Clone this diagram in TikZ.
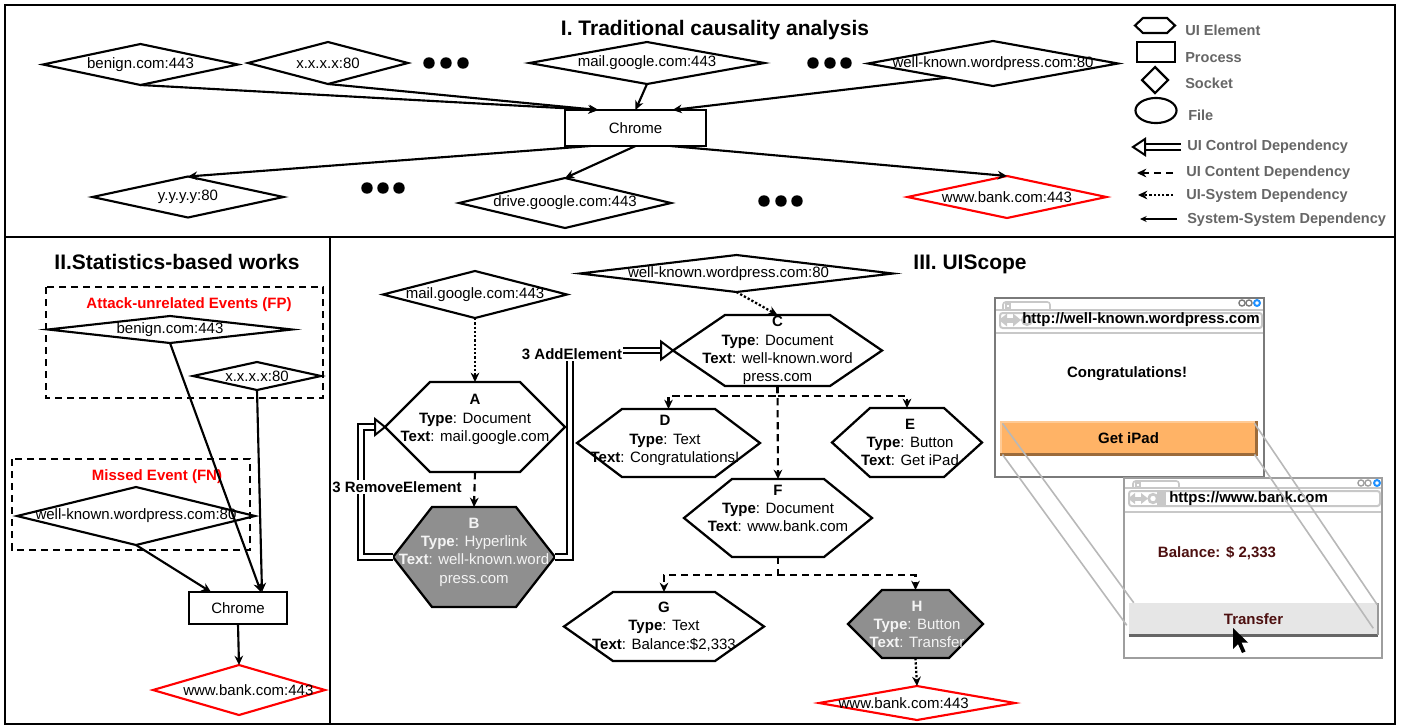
\documentclass[tikz,border=0pt]{standalone}
\usepackage{fontspec}
\setmainfont{Liberation Sans}
\usetikzlibrary{shapes.geometric,arrows.meta,calc}
\pgfdeclarelayer{bg}
\pgfsetlayers{bg,main}
\definecolor{hexgray}{HTML}{8F8F8F}
\definecolor{hextxt}{HTML}{F4F4F4}
\definecolor{leggray}{HTML}{666666}
\definecolor{winborder}{HTML}{7A7A7A}
\definecolor{winbordertwo}{HTML}{9E9E9E}
\definecolor{barlight}{HTML}{C8C8C8}
\definecolor{orangebtn}{HTML}{FFB366}
\definecolor{orangeedge}{HTML}{9C6B3A}
\definecolor{btngray}{HTML}{E6E6E6}
\definecolor{darkred}{HTML}{4D1010}
\definecolor{tiegray}{HTML}{B8B8B8}
\definecolor{blueball}{HTML}{1E90FF}
\newcommand\hexdraw[3][]{%
  \begin{pgfonlayer}{bg}
  \draw[hexline,#1] (#2.west) -- ($(#2.north west)+(#3,0)$) -- ($(#2.north east)-(#3,0)$) -- (#2.east)
     -- ($(#2.south east)-(#3,0)$) -- ($(#2.south west)+(#3,0)$) -- cycle;
  \end{pgfonlayer}}
\tikzset{
  frame/.style={draw=black, line width=1.7pt},
  ttl/.style={font=\fontsize{15.75}{18}\selectfont\bfseries, inner sep=0pt},
  redttl/.style={font=\fontsize{11.25}{13.5}\selectfont\bfseries, text=red, inner sep=0pt},
  dia/.style 2 args={shape=diamond, draw=black, line width=1.6pt, inner sep=0pt, outer sep=0pt,
     minimum width={#1*0.75pt}, minimum height={#2*0.75pt}},
  proc/.style 2 args={rectangle, draw=black, line width=1.6pt, inner sep=0pt, outer sep=0pt,
     minimum width={#1*0.75pt}, minimum height={#2*0.75pt}},
  hexbox/.style 2 args={rectangle, draw=none, inner sep=0pt, outer sep=0pt,
     minimum width={#1*0.75pt}, minimum height={#2*0.75pt}},
  hexline/.style={draw=black, line width=1.7pt},
  hextext/.style={align=center, inner sep=0pt},
  tip/.style={-{Stealth[length=7pt,width=6.5pt]}},
  sys/.style={line width=1.6pt, tip},
  content/.style={line width=1.6pt, dash pattern=on 5.5pt off 3.5pt, tip},
  uisys/.style={line width=1.7pt, dash pattern=on 1.7pt off 1.5pt, tip},
  ctrl/.style={line width=1.5pt, double=white, double distance=2.4pt},
  ctrlhead/.style={line width=1.5pt, fill=white},
  boxdash/.style={draw=black, line width=1.5pt, dash pattern=on 5.5pt off 3.5pt},
  lgtext/.style={anchor=west, inner sep=0pt, text=leggray, font=\fontsize{10.9}{13}\selectfont\bfseries},
  lab/.style={fill=white, inner sep=1pt, font=\fontsize{11.25}{13.5}\selectfont\bfseries},
  bld/.style={inner sep=0pt, font=\fontsize{11.25}{13.5}\selectfont\bfseries},
}
\begin{document}
\begin{tikzpicture}[x=0.75pt,y=-0.75pt, font=\fontsize{11.25}{13.7}\selectfont, line join=miter]
\useasboundingbox (0,0) rectangle (1403,726);

% ---------- frames ----------
\draw[frame] (5,5) rectangle (1395,237);
\draw[frame] (5,237) rectangle (330,724);
\draw[frame] (330,237) rectangle (1395,724);

\node[ttl] (t1) at (715,30) {I. Traditional causality analysis};
\node[ttl] (t2) at (177,262) {II.Statistics-based works};
\node[ttl] (t3) at (970,264) {III. UIScope};

% ---------- Section I ----------
\node[dia={195}{41}, label={center:{benign.com:443}}] (benign1) at (140.5,64.5) {};
\node[dia={160}{42}, label={center:{x.x.x.x:80}}] (xx1) at (328,63) {};
\node[dia={235}{42}, label={center:{mail.google.com:443}}] (mail1) at (647,63) {};
\node[dia={250}{45}, label={center:{well-known.wordpress.com:80}}] (wp1) at (993,63.5) {};
\node[proc={141}{36}] (chrome1) at (635.5,128) {Chrome};
\node[dia={191}{41}, label={center:{y.y.y.y:80}}] (yy1) at (188,197) {};
\node[dia={212}{50}, label={center:{drive.google.com:443}}] (drive1) at (565,203) {};
\node[dia={199}{42}, draw=red, label={center:{www.bank.com:443}}] (bank1) at (1007,197) {};

\foreach \x in {429,446,463} \fill (\x,63) circle[radius=4.3pt];
\foreach \x in {813,830,846} \fill (\x,63) circle[radius=4.3pt];
\foreach \x in {367,383,399} \fill (\x,188) circle[radius=4.3pt];
\foreach \x in {764,781,797} \fill (\x,201) circle[radius=4.3pt];

\draw[sys] (benign1.south) -- ($(chrome1.north)+(-38,0)$);
\draw[sys] (xx1.south) -- ($(chrome1.north)+(-37,0)$);
\draw[sys] (mail1.south) -- (chrome1.north);
\draw[sys] ($(wp1.west)!0.63!(wp1.south)$) -- ($(chrome1.north)+(37,0)$);
\draw[sys] ($(chrome1.south)+(-45,0)$) -- (yy1.north);
\draw[sys] (chrome1.south) -- (drive1.north);
\draw[sys] ($(chrome1.south)+(35,0)$) -- (bank1.north);

% ---------- legend ----------
\draw[line width=1.6pt] (1135,25.5) -- (1143,18) -- (1167,18) -- (1175,25.5) -- (1167,33) -- (1143,33) -- cycle;
\draw[line width=1.6pt] (1137,42) rectangle (1175,62);
\draw[line width=1.6pt] (1155,67) -- (1168,80) -- (1155,93) -- (1142,80) -- cycle;
\draw[line width=1.6pt] (1156,110.5) ellipse[x radius=15.4pt, y radius=9.4pt];
\draw[ctrl] (1181,147) -- (1145,147);
\draw[ctrlhead] (1133,147) -- (1145,139) -- (1145,155) -- cycle;
\draw[content] (1173,173) -- (1137,173);
\draw[uisys] (1173,195) -- (1138,195);
\draw[line width=0.9pt, -{Stealth[length=5pt,width=4.5pt]}] (1177,219) -- (1140,219);
\node[lgtext] (l1) at (1185,30) {UI Element};
\node[lgtext] (l2) at (1185,58) {Process};
\node[lgtext] (l3) at (1185,83) {Socket};
\node[lgtext] (l4) at (1188,115) {File};
\node[lgtext] (l5) at (1187,147) {UI Control Dependency};
\node[lgtext] (l6) at (1186,173) {UI Content Dependency};
\node[lgtext] (l7) at (1186,196) {UI-System Dependency};
\node[lgtext] (l8) at (1187,220) {System-System Dependency};

% ---------- Section II ----------
\draw[boxdash] (46,287) rectangle (323,398);
\node[redttl] (fp) at (189,305) {Attack-unrelated Events (FP)};
\node[dia={244}{27}, label={center:{benign.com:443}}] (benign2) at (170,329.5) {};
\node[dia={128}{28}, label={center:{x.x.x.x:80}}] (xx2) at (257,376) {};
\draw[boxdash] (12,459) rectangle (250,550);
\node[redttl] (fn) at (157,477) {Missed Event (FN)};
\node[dia={238}{58}, label={center:{well-known.wordpress.com:80}}] (wp2) at (136,516) {};
\node[proc={98}{32}] (chrome2) at (238,608) {Chrome};
\node[dia={172}{50}, draw=red, label={[xshift=7pt]center:{www.bank.com:443}}] (bank2) at (239,690) {};
\draw[sys] (benign2.south) -- ($(chrome2.north)+(23,0)$);
\draw[sys] (xx2.south) -- ($(chrome2.north)+(24,0)$);
\draw[sys] (wp2.south) -- ($(chrome2.north)+(-27,0)$);
\draw[sys] (chrome2.south) -- (bank2.north);

% ---------- Section III ----------
\node[dia={184}{47}, label={center:{mail.google.com:443}}] (mail3) at (475,294.5) {};
\node[dia={313}{37}, label={[xshift=-6pt]center:{well-known.wordpress.com:80}}] (wp3) at (736.5,273.5) {};
\node[dia={196}{34}, draw=red, label={[xshift=-10pt]center:{www.bank.com:443}}] (bank3) at (917,703) {};

\node[hexbox={180}{90}] (A) at (475,427) {};
\hexdraw{A}{45}
\node[hextext] (At) at (475,419.5) {\textbf{A}\\\textbf{Type}: Document\\\textbf{Text}: mail.google.com};

\node[hexbox={162}{100}] (B) at (474,557) {};
\hexdraw[fill=hexgray]{B}{39}
\node[hextext, text=hextxt] (Bt) at (474,552) {\textbf{B}\\\textbf{Type}: Hyperlink\\\textbf{Text}: well-known.word\\press.com};

\node[hexbox={209}{71}] (C) at (777.5,350.5) {};
\hexdraw{C}{52}
\node[hextext] (Ct) at (777.5,350.5) {\textbf{C}\\\textbf{Type}: Document\\\textbf{Text}: well-known.word\\press.com};

\node[hexbox={183}{68}] (D) at (668.5,443) {};
\hexdraw{D}{45}
\node[hextext] (Dt) at (665,440.5) {\textbf{D}\\\textbf{Type}: Text\\\textbf{Text}: Congratulations!};

\node[hexbox={150}{69}] (E) at (907,442.5) {};
\hexdraw{E}{38}
\node[hextext] (Et) at (910,442.5) {\textbf{E}\\\textbf{Type}: Button\\\textbf{Text}: Get iPad};

\node[hexbox={188}{78}] (F) at (778,518) {};
\hexdraw{F}{48}
\node[hextext] (Ft) at (778,508.5) {\textbf{F}\\\textbf{Type}: Document\\\textbf{Text}: www.bank.com};

\node[hexbox={200}{69}] (G) at (664,626.5) {};
\hexdraw{G}{49}
\node[hextext] (Gt) at (664,626.5) {\textbf{G}\\\textbf{Type}: Text\\\textbf{Text}: Balance:\$2,333};

\node[hexbox={135}{68}] (H) at (915.5,624) {};
\hexdraw[fill=hexgray]{H}{34}
\node[hextext, text=hextxt] (Ht) at (917,624.5) {\textbf{H}\\\textbf{Type}: Button\\\textbf{Text}: Transfer};

\draw[uisys] (mail3.south) -- (A.north);
\draw[content] (A.south) -- (B.north);
\draw[uisys] (wp3.south) -- (C.north);
\coordinate (cj) at ($(C.south)+(0,10)$);
\draw[content] (C.south) -- (cj) -| (D.north);
\draw[content] (cj) -| (E.north);
\draw[content] (C.south) -- (F.north);
\coordinate (fj) at ($(F.south)+(0,18)$);
\draw[content] (F.south) -- (fj) -| (G.north);
\draw[content] (fj) -| (H.north);
\draw[uisys] (H.south) -- (bank3.north);

% UI control dependencies
\coordinate (rbend) at (570,557);
\draw[ctrl, shorten >=9pt] (B.east) -- (rbend) -- (rbend |- C.west) -- (C.west);
\draw[ctrlhead] (C.west) -- ++(-12,-9) -- ++(0,18) -- cycle;
\node[lab] (addl) at (572,354) {3 AddElement};
\coordinate (lbend) at (361,557);
\draw[ctrl, shorten >=7.5pt] (B.west) -- (lbend) -- (lbend |- A.west) -- (A.west);
\draw[ctrlhead] (A.west) -- ++(-10,-8) -- ++(0,16) -- cycle;
\node[lab] (reml) at (397,487) {3 RemoveElement};

% ---------- browser window 1 ----------
\draw[draw=winborder, line width=1.5pt, fill=white] (995,298) rectangle (1264,477);
\draw[barlight, line width=1.2pt, rounded corners=2pt] (1003,310) -- (1003,302) -- (1050,302) -- (1050,310);
\draw[barlight, line width=1pt] (1006,304) rectangle (1010,308);
\draw[barlight, line width=1.2pt] (996,310) -- (1263,310);
\draw[barlight, line width=1.5pt, rounded corners=2pt] (1000,313) rectangle (1262,328);
\draw[barlight, line width=1.8pt] (996,333) -- (1263,333);
\fill[barlight] (999,320) -- (1007,313.5) -- (1007,326.5) -- cycle;
\fill[barlight] (1021,320) -- (1013,313.5) -- (1013,326.5) -- cycle;
\fill[barlight] (1006,317.5) rectangle (1014,322.5);
\draw[barlight, line width=2pt] (1027,320) circle[radius=3.5pt];
\draw[winborder, line width=1pt] (1242,303) circle[radius=2.3pt];
\draw[winborder, line width=1pt] (1249,303) circle[radius=2.3pt];
\draw[blueball, line width=1.5pt, fill=white] (1257,303) circle[radius=2.2pt];
\node[bld, anchor=west] (url1) at (1022,320) {http://well-known.wordpress.com};
\node[bld] (congr) at (1127,374) {Congratulations!};
\node[rectangle, fill=orangebtn, draw=orangebtn!70!white, line width=0.8pt, inner sep=0pt,
      minimum width={255*0.75pt}, minimum height={32*0.75pt},
      font=\fontsize{11.25}{13.5}\selectfont\bfseries] (gip) at (1128.5,438) {Get iPad};
\draw[orangeedge, line width=1.8pt] (gip.south west) -- (gip.south east) -- (gip.north east);

% ---------- browser window 2 ----------
\draw[draw=winbordertwo, line width=1.5pt, fill=white] (1124,478) rectangle (1382,658);
\draw[barlight, line width=1.2pt, rounded corners=2pt] (1133,488) -- (1133,481) -- (1179,481) -- (1179,488);
\draw[barlight, line width=1pt] (1136,483) rectangle (1140,487);
\draw[barlight, line width=1.2pt] (1125,488) -- (1381,488);
\draw[barlight, line width=1.5pt, rounded corners=2pt] (1129,491) rectangle (1380,506);
\draw[barlight, line width=1.8pt] (1125,512) -- (1381,512);
\fill[barlight] (1128,498.5) -- (1135,493) -- (1135,504) -- cycle;
\fill[barlight] (1148,498.5) -- (1141,493) -- (1141,504) -- cycle;
\fill[barlight] (1134,496.5) rectangle (1142,500.5);
\draw[barlight, line width=2pt] (1153,498.5) circle[radius=3.2pt];
\fill[barlight] (1157,492) rectangle (1166,505);
\draw[winbordertwo, line width=1pt] (1361,483) circle[radius=2.3pt];
\draw[winbordertwo, line width=1pt] (1368,483) circle[radius=2.3pt];
\draw[blueball, line width=1.5pt, fill=white] (1377,483) circle[radius=2.2pt];
\node[bld, anchor=west] (url2) at (1169,498.5) {https://www.bank.com};
\node[bld, text=darkred] (bal) at (1217,553) {Balance: \$ 2,333};
\node[rectangle, fill=btngray, inner sep=0pt,
      minimum width={249*0.75pt}, minimum height={32*0.75pt}, text=darkred,
      font=\fontsize{11.25}{13.5}\selectfont\bfseries] (tr) at (1253.5,619) {Transfer};
\draw[black!60, line width=2pt] (tr.south west) -- (tr.south east);
\draw[black!40, line width=1.2pt] (tr.south east) -- (tr.north east);
\fill[black, shift={(1233,628)}] (0,0) -- (0,21) -- (5,16) -- (9,25) -- (12.5,23.5) -- (8.5,14.5) -- (15,14.5) -- cycle;

% ---------- linking lines ----------
\draw[tiegray, line width=1.2pt] ($(gip.north west)+(2,2)$) -- ($(tr.north west)+(5,0)$);
\draw[tiegray, line width=1.2pt] ($(gip.south west)+(2,0)$) -- ($(tr.south west)+(-2,-10)$);
\draw[tiegray, line width=1.2pt] ($(gip.north east)+(-2,2)$) -- ($(tr.north east)+(-1,2)$);
\draw[tiegray, line width=1.2pt] ($(gip.south east)+(-2,0)$) -- ($(tr.south east)+(-5,-7)$);
\end{tikzpicture}
\end{document}
